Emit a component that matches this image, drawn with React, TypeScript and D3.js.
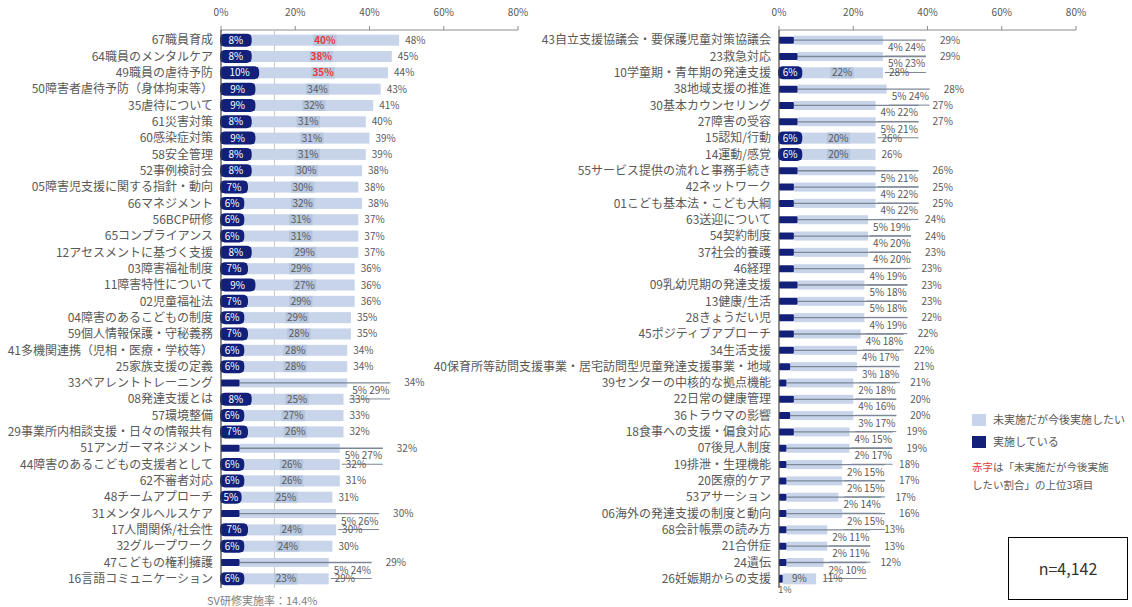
import React from 'react';
import * as d3 from 'd3';

const leftCategories = [
  '67職員育成', '64職員のメンタルケア', '49職員の虐待予防', '50障害者虐待予防（身体拘束等）', '35虐待について',
  '61災害対策', '60感染症対策', '58安全管理', '52事例検討会', '05障害児支援に関する指針・動向',
  '66マネジメント', '56BCP研修', '65コンプライアンス', '12アセスメントに基づく支援', '03障害福祉制度',
  '11障害特性について', '02児童福祉法', '04障害のあるこどもの制度', '59個人情報保護・守秘義務', '41多機関連携（児相・医療・学校等）',
  '25家族支援の定義', '33ペアレントトレーニング', '08発達支援とは', '57環境整備', '29事業所内相談支援・日々の情報共有',
  '51アンガーマネジメント', '44障害のあるこどもの支援者として', '62不審者対応', '48チームアプローチ', '31メンタルヘルスケア',
  '17人間関係/社会性', '32グループワーク', '47こどもの権利擁護', '16言語コミュニケーション',
];
const leftImplemented = [8, 8, 10, 9, 9, 8, 9, 8, 8, 7, 6, 6, 6, 8, 7, 9, 7, 6, 7, 6, 6, 5, 8, 6, 7, 5, 6, 6, 5, 5, 7, 6, 5, 6];
const leftPlanned = [40, 38, 35, 34, 32, 31, 31, 31, 30, 30, 32, 31, 31, 29, 29, 27, 29, 29, 28, 28, 28, 29, 25, 27, 26, 27, 26, 26, 25, 26, 24, 24, 24, 23];
const leftTotal = [48, 45, 44, 43, 41, 40, 39, 39, 38, 38, 38, 37, 37, 37, 36, 36, 36, 35, 35, 34, 34, 34, 33, 33, 32, 32, 32, 31, 31, 30, 30, 30, 29, 29];

const rightCategories = [
  '43自立支援協議会・要保護児童対策協議会', '23救急対応', '10学童期・青年期の発達支援', '38地域支援の推進', '30基本カウンセリング',
  '27障害の受容', '15認知/行動', '14運動/感覚', '55サービス提供の流れと事務手続き', '42ネットワーク',
  '01こども基本法・こども大綱', '63送迎について', '54契約制度', '37社会的養護', '46経理',
  '09乳幼児期の発達支援', '13健康/生活', '28きょうだい児', '45ポジティブアプローチ', '34生活支援',
  '40保育所等訪問支援事業・居宅訪問型児童発達支援事業・地域', '39センターの中核的な拠点機能', '22日常の健康管理', '36トラウマの影響', '18食事への支援・偏食対応',
  '07後見人制度', '19排泄・生理機能', '20医療的ケア', '53アサーション', '06海外の発達支援の制度と動向',
  '68会計帳票の読み方', '21合併症', '24遺伝', '26妊娠期からの支援',
];
const rightImplemented = [4, 5, 6, 5, 4, 5, 6, 6, 5, 4, 4, 5, 4, 4, 4, 5, 5, 4, 4, 4, 3, 2, 4, 3, 4, 2, 2, 2, 2, 2, 2, 2, 2, 1];
const rightPlanned = [24, 23, 22, 24, 22, 21, 20, 20, 21, 22, 22, 19, 20, 20, 19, 18, 18, 19, 18, 17, 18, 18, 16, 17, 15, 17, 15, 15, 14, 15, 11, 11, 10, 9];
const rightTotal = [29, 29, 28, 28, 27, 27, 26, 26, 26, 25, 25, 24, 24, 23, 23, 23, 23, 22, 22, 22, 21, 21, 20, 20, 19, 19, 18, 17, 17, 16, 13, 13, 12, 11];

// rows whose data labels were moved below the bar with leader lines
const leftLeaderRows = ['33ペアレントトレーニング', '51アンガーマネジメント', '31メンタルヘルスケア', '47こどもの権利擁護'];
const rightInsideRows = ['10学童期・青年期の発達支援', '15認知/行動', '14運動/感覚'];
const rightSmallRows = ['26妊娠期からの支援'];

const tickValues = [0, 20, 40, 60, 80];
const svRate = 14.4;
const sampleSize = 'n=4,142';

const DARK = '#13207a';
const LIGHT = '#c7d4ea';
const LIGHT_BOX = '#b6c6df';
const GRAY = '#595959';
const RED = '#e8383d';
const FONT = '"Noto Sans CJK JP", "Noto Sans", sans-serif';

const top3Planned = [...leftPlanned, ...rightPlanned].sort((a, b) => b - a).slice(0, 3);

type PanelProps = {
  cats: string[];
  done: number[];
  want: number[];
  total: number[];
  x0: number;
  x1: number;
  mode: (name: string) => 'normal' | 'leader' | 'small';
  highlight: boolean;
  sv: boolean;
};

function textW(s: string, size: number) {
  return s.length * size * 0.58;
}

function Panel({ cats, done, want, total, x0, x1, mode, highlight, sv }: PanelProps) {
  const x = d3.scaleLinear().domain([0, 80]).range([x0, x1]);
  const y = d3.scaleBand<number>().domain(d3.range(cats.length)).range([32, 587]);
  const axisY = 30;
  const red = new Set<number>();
  if (highlight) {
    want.forEach((v, i) => {
      if (top3Planned.includes(v) && red.size < 3) red.add(i);
    });
  }
  return (
    <g>
      {/* top axis */}
      <line x1={x(0)} x2={x(80)} y1={axisY} y2={axisY} stroke="#8c8c8c" strokeWidth={1} />
      {tickValues.map((t) => (
        <g key={t}>
          <line x1={x(t)} x2={x(t)} y1={axisY - 4} y2={axisY} stroke="#8c8c8c" />
          <text x={x(t)} y={16} textAnchor="middle" fontSize={10} fill={GRAY}>{t}%</text>
        </g>
      ))}
      {sv && (
        <line x1={x(svRate)} x2={x(svRate)} y1={axisY} y2={588} stroke="#c8c8c8" strokeWidth={1} />
      )}
      {cats.map((name, i) => {
        const yc = (y(i) as number) + y.bandwidth() / 2;
        const xd = x(done[i]);
        const xe = x(done[i] + want[i]);
        const m = mode(name);
        const label = (
          <text x={x0 - 8} y={yc} dy="0.35em" textAnchor="end" fontSize={12} fill={GRAY}>{name}</text>
        );
        if (m === 'leader') {
          const ls = xe + 5;
          return (
            <g key={name}>
              {label}
              <rect x={xd} y={yc - 4.5} width={xe - xd} height={9} fill={LIGHT} />
              <line x1={xd} x2={ls + 38} y1={yc} y2={yc} stroke="#7d8797" strokeWidth={1.3} />
              <line x1={ls - 3} x2={ls + 38} y1={yc + 16} y2={yc + 16} stroke="#7d8797" strokeWidth={1} />
              <rect x={x0} y={yc - 3.5} width={xd - x0} height={7} fill={DARK} rx={1} />
              <text x={ls} y={yc + 11} fontSize={10} fill={GRAY}>{done[i]}%</text>
              <text x={ls + 17} y={yc + 11} fontSize={10} fill={GRAY}>{want[i]}%</text>
              <text x={xe + 57} y={yc} dy="0.35em" fontSize={10} fill={GRAY}>{total[i]}%</text>
            </g>
          );
        }
        if (m === 'small') {
          return (
            <g key={name}>
              {label}
              <rect x={xd} y={yc - 5.5} width={xe - xd} height={11} fill={LIGHT} />
              <rect x={x0} y={yc - 4} width={xd - x0} height={8} fill={DARK} rx={1} />
              <text x={(xd + xe) / 2} y={yc} dy="0.35em" textAnchor="middle" fontSize={10} fill={GRAY}>{want[i]}%</text>
              <text x={x0 + 6} y={yc + 14} textAnchor="middle" fontSize={9} fill={GRAY}>{done[i]}%</text>
              <text x={xe + 6} y={yc} dy="0.35em" fontSize={10} fill={GRAY}>{total[i]}%</text>
            </g>
          );
        }
        const dl = `${done[i]}%`;
        const wl = `${want[i]}%`;
        const blobW = Math.max(xd - x0 + 2, textW(dl, 10) + 10);
        const wbox = textW(wl, 10) + 6;
        return (
          <g key={name}>
            {label}
            <rect x={xd} y={yc - 5.5} width={xe - xd} height={11} fill={LIGHT} />
            <rect x={x0} y={yc - 5.5} width={xd - x0} height={11} fill={DARK} />
            <rect x={(xd + xe) / 2 - wbox / 2} y={yc - 5.5} width={wbox} height={11} fill={LIGHT_BOX} />
            <rect x={x0 - 1} y={yc - 6.5} width={blobW} height={13} rx={5} fill={DARK} />
            <text x={x0 - 1 + blobW / 2} y={yc} dy="0.35em" textAnchor="middle" fontSize={10} fill="#ffffff">{dl}</text>
            <text x={(xd + xe) / 2} y={yc} dy="0.35em" textAnchor="middle" fontSize={10}
              fill={red.has(i) ? RED : GRAY} fontWeight={red.has(i) ? 700 : 400}>{wl}</text>
            <text x={xe + 6} y={yc} dy="0.35em" fontSize={10} fill={GRAY}>{total[i]}%</text>
          </g>
        );
      })}
      <line x1={x(0)} x2={x(0)} y1={axisY} y2={588} stroke="#404040" strokeWidth={1.2} />
      {sv && (
        <text x={207} y={605} fontSize={11} fill="#7f7f7f">SV研修実施率：{svRate}%</text>
      )}
    </g>
  );
}

export default function App() {
  return (
    <svg width={1132} height={607} style={{ position: 'absolute', left: 0, top: 0, display: 'block', fontFamily: FONT }}>
      <rect width={1132} height={607} fill="#ffffff" />
      <Panel cats={leftCategories} done={leftImplemented} want={leftPlanned} total={leftTotal}
        x0={221} x1={518} mode={(n) => (leftLeaderRows.includes(n) ? 'leader' : 'normal')} highlight sv />
      <Panel cats={rightCategories} done={rightImplemented} want={rightPlanned} total={rightTotal}
        x0={779} x1={1076}
        mode={(n) => (rightInsideRows.includes(n) ? 'normal' : rightSmallRows.includes(n) ? 'small' : 'leader')}
        highlight={false} sv={false} />
      {/* legend */}
      <g>
        <rect x={972} y={414} width={14} height={12} fill={LIGHT} />
        <text x={993} y={420} dy="0.35em" fontSize={11} fill={GRAY}>未実施だが今後実施したい</text>
        <rect x={972} y={436} width={14} height={12} fill={DARK} />
        <text x={993} y={442} dy="0.35em" fontSize={11} fill={GRAY}>実施している</text>
        <text x={972} y={467} dy="0.35em" fontSize={10.5} fill={GRAY}>
          <tspan fill={RED}>赤字</tspan>は「未実施だが今後実施
        </text>
        <text x={972} y={485} dy="0.35em" fontSize={10.5} fill={GRAY}>したい割合」の上位3項目</text>
      </g>
      <rect x={1008.5} y={537.5} width={119} height={62} fill="none" stroke="#000000" strokeWidth={1} />
      <text x={1068} y={569} dy="0.35em" textAnchor="middle" fontSize={16} fill="#333333">{sampleSize}</text>
    </svg>
  );
}
